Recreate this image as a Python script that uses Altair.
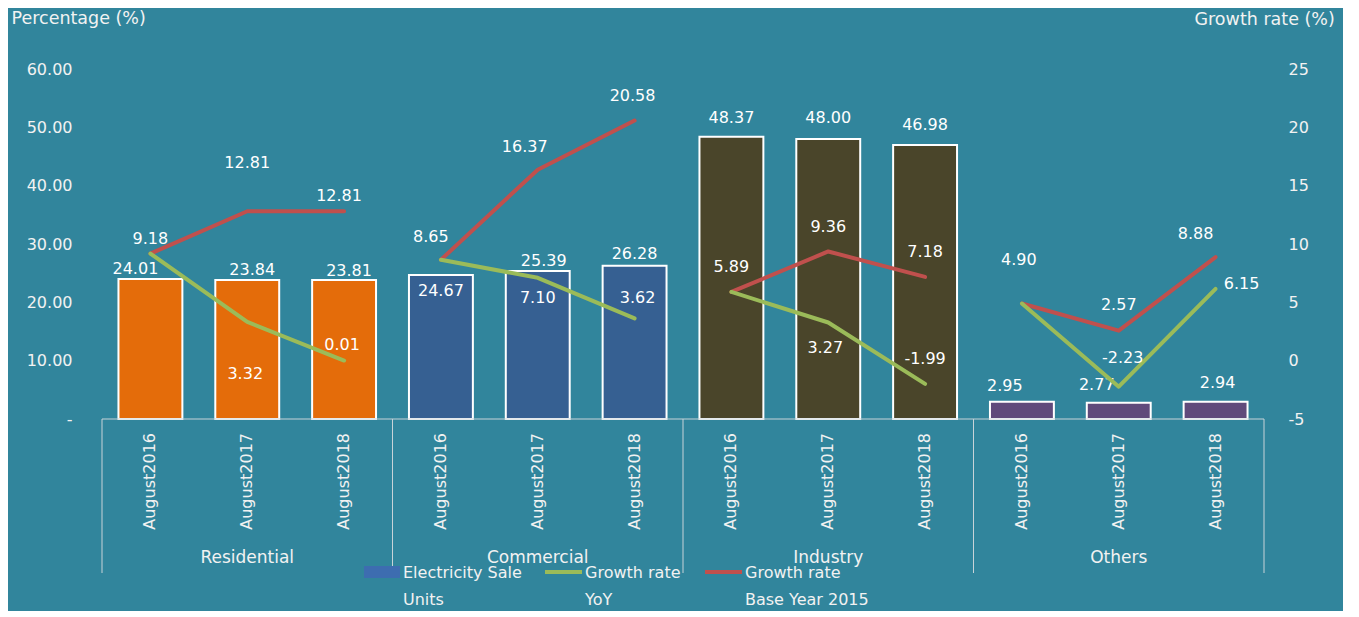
import altair as alt
import pandas as pd

# ---- data ----
categories = ["Residential", "Commercial", "Industry", "Others"]
periods = ["August2016", "August2017", "August2018"]
sales = [24.01, 23.84, 23.81, 24.67, 25.39, 26.28, 48.37, 48.00, 46.98, 2.95, 2.77, 2.94]
growth_yoy = [9.18, 3.32, 0.01, 8.65, 7.10, 3.62, 5.89, 3.27, -1.99, 4.90, -2.23, 6.15]
growth_base = [9.18, 12.81, 12.81, 8.65, 16.37, 20.58, 5.89, 9.36, 7.18, 4.90, 2.57, 8.88]
cat_colors = ["#E46C0A", "#366092", "#4A452A", "#604A7B"]

rows = []
i = 0
for c in categories:
    for p in periods:
        rows.append({"idx": i, "group": c, "period": p, "sales": sales[i],
                     "yoy": growth_yoy[i], "base": growth_base[i]})
        i += 1
df = pd.DataFrame(rows)
n = len(rows)
gsize = len(periods)
edges = pd.DataFrame({"e": [k * gsize - 0.5 for k in range(len(categories) + 1)]})
gcent = pd.DataFrame({"group": categories,
                      "c": [k * gsize + (gsize - 1) / 2 for k in range(len(categories))]})

FONT = "DejaVu Sans"
TXT = "#FFFFFF"
AX = "#F2F2F2"
LINEC = "#C8D3D8"
W, H = 1162, 350

xs = alt.Scale(domain=[-0.5, n - 0.5], nice=False, zero=False)
X = alt.X("idx:Q", scale=xs, axis=None)

yl = alt.Y("sales:Q",
           scale=alt.Scale(domain=[0, 60], nice=False),
           axis=alt.Axis(values=[0, 10, 20, 30, 40, 50, 60], ticks=False, domain=False, grid=False,
                         labelExpr="datum.value == 0 ? '-\u00a0\u00a0\u00a0' : format(datum.value, '.2f')",
                         labelFont=FONT, labelFontSize=16, labelColor=AX, labelPadding=30,
                         title="Percentage (%)", titleAngle=0, titleX=-91, titleY=-51,
                         titleAlign="left", titleBaseline="middle", titleFont=FONT,
                         titleFontSize=17.5, titleFontWeight="normal", titleColor=AX))

def yr(field):
    return alt.Y(f"{field}:Q",
                 scale=alt.Scale(domain=[-5, 25], nice=False, zero=False),
                 axis=alt.Axis(values=[-5, 0, 5, 10, 15, 20, 25], ticks=False, domain=False, grid=False,
                               orient="right", labelFont=FONT, labelFontSize=16, labelColor=AX,
                               labelPadding=24, labelAlign="left",
                               labelExpr="replace(format(datum.value, 'd'), '\u2212', '-')",
                               title="Growth rate (%)", titleAngle=0, titleX=-70, titleY=-50,
                               titleAlign="left", titleBaseline="middle", titleFont=FONT,
                               titleFontSize=17.5, titleFontWeight="normal", titleColor=AX))

base = alt.Chart(df)

bars = base.transform_calculate(x0="datum.idx - 0.33", x1="datum.idx + 0.33").mark_bar(
    stroke="white", strokeWidth=2).encode(
    x=alt.X("x0:Q", scale=xs, axis=None), x2="x1:Q", y=yl, y2=alt.datum(0),
    color=alt.Color("group:N", scale=alt.Scale(domain=categories, range=cat_colors), legend=None))

# bar label nudges (dx, dy) in pixels
bar_nudge = [(-15, -10), (5, -10), (5, -9), (0, 16), (6, -10), (0, -12),
             (0, -19), (0, -21), (0, -20), (-17, -16), (-22, -18), (2, -19)]
bar_labels = []
for k, (dx, dy) in enumerate(bar_nudge):
    bar_labels.append(base.transform_filter(f"datum.idx == {k}").mark_text(
        font=FONT, fontSize=16, color=TXT, dx=dx, dy=dy, baseline="middle").encode(
        x=X, y=yl, text=alt.Text("sales:Q", format=".2f")))

sep = alt.Chart(edges).mark_rule(color=LINEC, strokeWidth=1).encode(
    x=alt.X("e:Q", scale=xs, axis=None), y=alt.value(H), y2=alt.value(H + 154))
hline = alt.Chart(edges).transform_aggregate(a="min(e)", b="max(e)").mark_rule(
    color=LINEC, strokeWidth=1).encode(
    x=alt.X("a:Q", scale=xs, axis=None), x2="b:Q", y=alt.value(H))
year_lbl = base.mark_text(font=FONT, fontSize=16, color=AX, angle=270, align="right",
                          baseline="middle").encode(x=X, y=alt.value(H + 14), text="period:N")
grp_lbl = alt.Chart(gcent).mark_text(font=FONT, fontSize=17, color=AX, baseline="middle").encode(
    x=alt.X("c:Q", scale=xs, axis=None), y=alt.value(H + 139), text="group:N")

# legend
leg = alt.Chart(pd.DataFrame({"d": [0]}))
leg_box = leg.mark_rect(color="#3D6DB0").encode(x=alt.value(262), x2=alt.value(298),
                                                 y=alt.value(497), y2=alt.value(509))
leg_g = leg.mark_rule(color="#9BBB59", strokeWidth=4).encode(x=alt.value(443), x2=alt.value(480),
                                                             y=alt.value(503))
leg_r = leg.mark_rule(color="#C0504D", strokeWidth=4).encode(x=alt.value(603), x2=alt.value(640),
                                                             y=alt.value(503))
def ltxt(t, x, y):
    return leg.mark_text(font=FONT, fontSize=16, color=AX, align="left", baseline="middle",
                         text=t).encode(x=alt.value(x), y=alt.value(y))
leg_txt = [ltxt("Electricity Sale", 301, 504), ltxt("Units", 301, 531),
           ltxt("Growth rate", 483, 504), ltxt("YoY", 483, 531),
           ltxt("Growth rate", 643, 504), ltxt("Base Year 2015", 643, 531)]

left = alt.layer(bars, *bar_labels, sep, hline, year_lbl, grp_lbl, leg_box, leg_g, leg_r, *leg_txt)

# lines (right axis)
red = base.mark_line(color="#C0504D", strokeWidth=4, strokeCap="round", strokeJoin="round").encode(
    x=X, y=yr("base"), detail="group:N")
green = base.mark_line(color="#9BBB59", strokeWidth=4, strokeCap="round", strokeJoin="round").encode(
    x=X, y=yr("yoy"), detail="group:N")

base_nudge = {0: (0, -15), 1: (0, -48), 2: (-5, -15), 3: (-10, -23), 4: (-13, -23), 5: (-2, -25),
              6: (0, -25), 7: (0, -24), 8: (0, -25), 9: (-3, -44), 10: (0, -26), 11: (-20, -23)}
yoy_nudge = {1: (-2, 52), 2: (-2, -16), 4: (0, 20), 5: (3, -20), 7: (-3, 25), 8: (0, -25),
             10: (4, -29), 11: (26, -5)}
line_labels = []
for field, nud in (("base", base_nudge), ("yoy", yoy_nudge)):
    for k, (dx, dy) in nud.items():
        line_labels.append(base.transform_filter(f"datum.idx == {k}").transform_calculate(
            lbl=f"replace(format(datum.{field}, '.2f'), '\u2212', '-')").mark_text(
            font=FONT, fontSize=16, color=TXT, dx=dx, dy=dy, baseline="middle").encode(
            x=X, y=yr(field), text="lbl:N"))

right = alt.layer(red, green, *line_labels)

chart = alt.layer(left, right).resolve_scale(y="independent").properties(
    width=W, height=H, background="#31859C",
    padding={"left": 94, "top": 61, "right": 79, "bottom": 192}, autosize="none"
).configure_view(stroke=None)

chart.save("out.html", embed_options={"renderer": "svg", "actions": False})
